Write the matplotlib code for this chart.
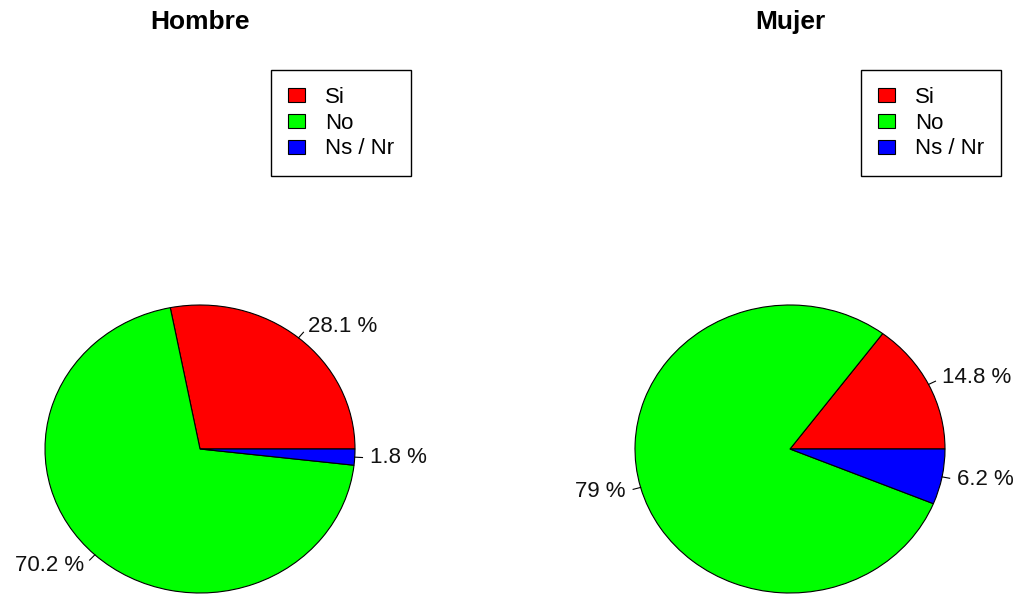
import numpy as np
from matplotlib import pyplot as plt
from matplotlib.patches import Patch

plt.rcParams['font.family'] = ['Liberation Sans', 'DejaVu Sans']

categorias = ['Si', 'No', 'Ns / Nr']
colores = ['#FF0000', '#00FF00', '#0000FF']
hombre = [28.1, 70.2, 1.8]
mujer = [14.8, 79, 6.2]
titulos = ['Hombre', 'Mujer']

W, H = 1021, 594
fig = plt.figure(figsize=(W / 100, H / 100), dpi=100)


def ejes_px(x0, y0, w, h):
    # caja en pixeles medidos desde arriba a la izquierda
    return fig.add_axes([x0 / W, 1 - (y0 + h) / H, w / W, h / H])


def torta(ax, valores):
    wedges, _ = ax.pie(valores, colors=colores, startangle=0, counterclock=True,
                       labels=[f'{v:g} %' for v in valores], labeldistance=1.1,
                       wedgeprops=dict(edgecolor='black', linewidth=0.8),
                       textprops=dict(fontsize=16, color='#111111'))
    ax.set_aspect('auto')
    ax.set_xlim(-1, 1)
    ax.set_ylim(-1, 1)
    ax.axis('off')
    # rayitas entre el borde y la etiqueta, como en R
    for w in wedges:
        ang = np.deg2rad((w.theta1 + w.theta2) / 2)
        ax.plot([np.cos(ang), 1.05 * np.cos(ang)], [np.sin(ang), 1.05 * np.sin(ang)],
                color='black', lw=0.8, clip_on=False)


manijas = [Patch(facecolor=c, edgecolor='black', linewidth=0.8) for c in colores]

for cx, valores, titulo, x_ley in [(200, hombre, titulos[0], 271), (790, mujer, titulos[1], 861)]:
    ax = ejes_px(cx - 155, 305, 310, 288)
    torta(ax, valores)
    fig.text(cx / W, 1 - 22 / H, titulo, ha='center', va='center',
             fontsize=19, fontweight='bold')
    ley = fig.legend(manijas, categorias, loc='upper left',
                     bbox_to_anchor=(x_ley / W, 1 - 70 / H), fontsize=16,
                     fancybox=False, edgecolor='black', framealpha=1,
                     handlelength=0.8, handleheight=0.6, handletextpad=0.9,
                     labelspacing=0.22, borderpad=0.75, borderaxespad=0)
    ley.get_frame().set_linewidth(1)

fig.savefig('out.png', dpi=100)
